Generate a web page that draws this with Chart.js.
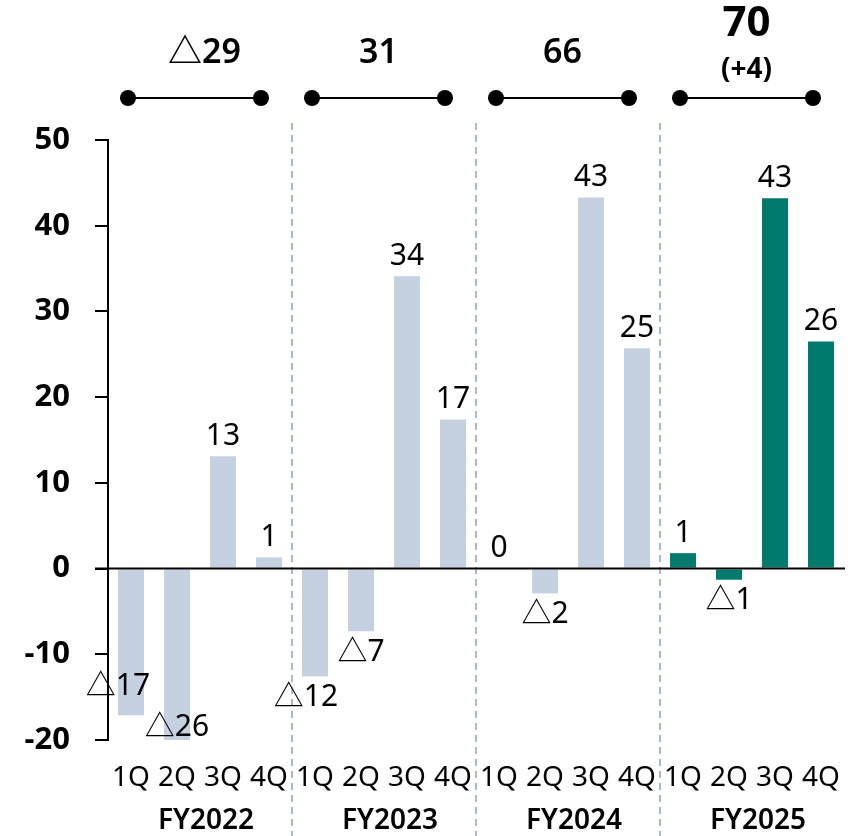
<!DOCTYPE html>
<html>
<head>
<meta charset="utf-8">
<script src="https://cdn.jsdelivr.net/npm/chart.js@4.4.0/dist/chart.umd.min.js"></script>
<style>
  html, body { margin: 0; padding: 0; background: #fff; }
  #wrap { width: 856px; height: 836px; }
</style>
</head>
<body>
<div id="wrap"><canvas id="myChart" width="856" height="836"></canvas></div>
<script>
const quarters = ['1Q', '2Q', '3Q', '4Q', '1Q', '2Q', '3Q', '4Q', '1Q', '2Q', '3Q', '4Q', '1Q', '2Q', '3Q', '4Q'];
const fiscalYears = ['FY2022', 'FY2023', 'FY2024', 'FY2025'];
const profit = [-17.1, -26, 13.1, 1.3, -12.6, -7.3, 34.1, 17.4, 0, -2.9, 43.3, 25.7, 1.8, -1.3, 43.2, 26.5];
const profitLabels = ['△17', '△26', '13', '1', '△12', '△7', '34', '17', '0', '△2', '43', '25', '1', '△1', '43', '26'];
const yearTotals = ['△29', '31', '66', '70'];
const yearNotes = ['', '', '', '(+4)'];
const yTicks = [50, 40, 30, 20, 10, 0, -10, -20];

const FONT = "'Noto Sans', 'Noto Sans CJK JP', sans-serif";
const PAST = '#c5d0e1';
const CURRENT = '#017a6e';

// a couple of labels were moved by hand in the original
const nudge = { 0: [-13, -50], 1: [0, -34], 4: [-9, 0] };

const decor = {
  id: 'decor',
  beforeDatasetsDraw(chart) {
    const { ctx, scales: { x } } = chart;
    ctx.save();
    ctx.strokeStyle = '#8fa3bf';
    ctx.lineWidth = 1.5;
    ctx.setLineDash([7, 5]);
    for (let g = 1; g < fiscalYears.length; g++) {
      const px = (x.getPixelForValue(g * 4 - 1) + x.getPixelForValue(g * 4)) / 2;
      ctx.beginPath();
      ctx.moveTo(px, 123);
      ctx.lineTo(px, 836);
      ctx.stroke();
    }
    ctx.restore();
  },
  afterDatasetsDraw(chart) {
    const { ctx, scales: { x, y } } = chart;
    ctx.save();

    // zero line
    const y0 = y.getPixelForValue(0);
    ctx.strokeStyle = '#000';
    ctx.lineWidth = 2;
    ctx.beginPath();
    ctx.moveTo(95, y0);
    ctx.lineTo(845, y0);
    ctx.stroke();

    // value labels
    ctx.fillStyle = '#000';
    ctx.font = '30px ' + FONT;
    ctx.textAlign = 'center';
    ctx.textBaseline = 'middle';
    const bars = chart.getDatasetMeta(0).data;
    profit.forEach((v, i) => {
      const bar = bars[i];
      const n = nudge[i] || [0, 0];
      let ty;
      if (v >= 0) ty = bar.y - 20;
      else ty = Math.min(bar.y, chart.chartArea.bottom) + 21;
      ctx.fillText(profitLabels[i], bar.x + n[0], ty + n[1]);
    });

    // fiscal year labels under the quarters
    ctx.font = '600 28px ' + FONT;
    fiscalYears.forEach((fy, g) => {
      const cx = (x.getPixelForValue(g * 4 + 1) + x.getPixelForValue(g * 4 + 2)) / 2;
      ctx.fillText(fy, cx + 6, 821);
    });

    // yearly totals with brackets
    const by = 98;
    fiscalYears.forEach((fy, g) => {
      const x1 = x.getPixelForValue(g * 4) - 3;
      const x2 = x.getPixelForValue(g * 4 + 3) - 8;
      ctx.lineWidth = 2;
      ctx.beginPath();
      ctx.moveTo(x1, by);
      ctx.lineTo(x2, by);
      ctx.stroke();
      [x1, x2].forEach(px => {
        ctx.beginPath();
        ctx.arc(px, by, 8, 0, Math.PI * 2);
        ctx.fill();
      });
      const cx = (x1 + x2) / 2;
      if (yearNotes[g]) {
        ctx.font = 'bold 42px ' + FONT;
        ctx.fillText(yearTotals[g], cx, 24);
        ctx.font = 'bold 28px ' + FONT;
        ctx.fillText(yearNotes[g], cx, 70);
      } else {
        ctx.font = '600 34px ' + FONT;
        ctx.fillText(yearTotals[g], cx + (g === 0 ? 10 : 0), 53);
      }
    });

    ctx.restore();
  }
};

new Chart(document.getElementById('myChart'), {
  type: 'bar',
  data: {
    labels: quarters,
    datasets: [{
      data: profit,
      backgroundColor: profit.map((v, i) => i >= 12 ? CURRENT : PAST),
      borderWidth: 0,
      barPercentage: 0.565,
      categoryPercentage: 1
    }]
  },
  options: {
    responsive: false,
    animation: false,
    layout: { padding: { top: 140, right: 12, left: 0, bottom: 0 } },
    plugins: { legend: { display: false }, tooltip: { enabled: false } },
    scales: {
      x: {
        grid: { display: false },
        border: { display: false },
        ticks: { color: '#000', font: { family: FONT, size: 28 }, padding: 13, maxRotation: 0, autoSkip: false },
        afterFit: (s) => { s.height = 96; }
      },
      y: {
        min: -20,
        max: 50,
        afterBuildTicks: (s) => { s.ticks = yTicks.map(v => ({ value: v })); },
        grid: { drawOnChartArea: false, drawTicks: true, tickLength: 13, color: '#000', lineWidth: 2 },
        border: { display: true, color: '#000', width: 2 },
        ticks: { color: '#000', font: { family: FONT, size: 31, weight: 'bold' }, padding: 25 },
        afterFit: (s) => { s.width = 108; }
      }
    }
  },
  plugins: [decor]
});
</script>
</body>
</html>
